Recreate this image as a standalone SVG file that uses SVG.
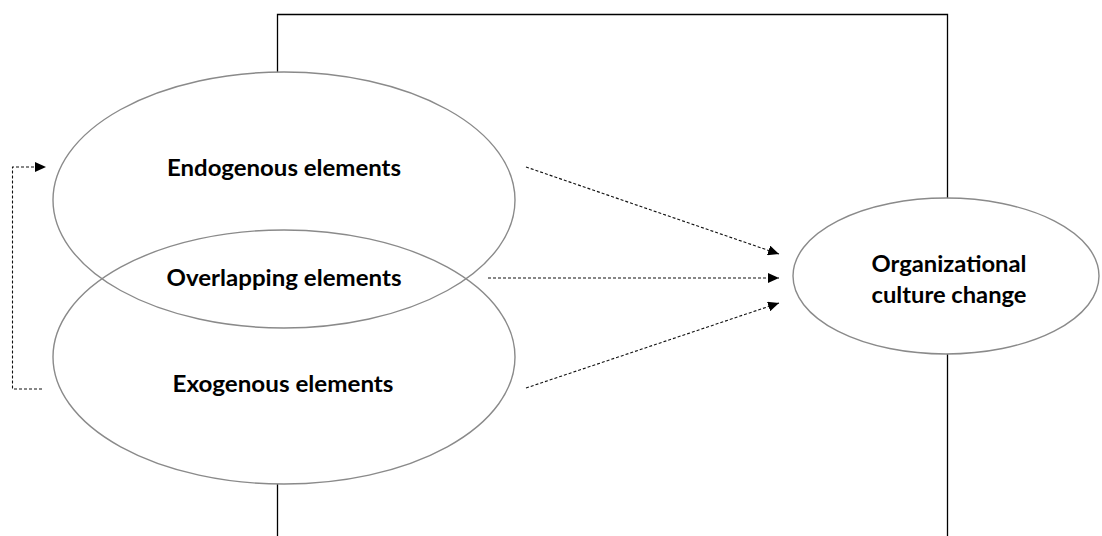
<svg xmlns="http://www.w3.org/2000/svg" width="1102" height="536" viewBox="0 0 1102 536">
  <defs>
    <marker id="arrow" viewBox="0 0 11 10" refX="11" refY="5" markerWidth="11" markerHeight="10" markerUnits="userSpaceOnUse" orient="auto">
      <path d="M0,0 L11,5 L0,10 z" fill="#000"/>
    </marker>
  </defs>
  <style>
    .frame { fill: none; stroke: #000; stroke-width: 1.3; }
    .node { fill: none; stroke: #8a8a8a; stroke-width: 1.4; }
    .label { font-family: "Lato", "Liberation Sans", sans-serif; font-weight: bold; font-size: 22.5px; fill: #000; text-anchor: middle; }
    .link { fill: none; stroke: #111; stroke-width: 1.1; stroke-dasharray: 3 2; }
  </style>

  <rect width="1102" height="536" fill="#fff"/>

  <!-- open frame behind the ellipses -->
  <g id="frame">
    <path class="frame" d="M277.5,536 V14.5 H947.5 V536"/>
  </g>

  <!-- white fills hide the frame where the ellipses cover it -->
  <g id="fills" fill="#fff">
    <ellipse cx="284" cy="200" rx="231" ry="128"/>
    <ellipse cx="284" cy="357" rx="231" ry="127"/>
    <ellipse cx="946" cy="276" rx="153" ry="78"/>
  </g>

  <g id="endogenous">
    <ellipse class="node" cx="284" cy="200" rx="231" ry="128"/>
    <text class="label" x="284" y="176" textLength="234" lengthAdjust="spacingAndGlyphs">Endogenous elements</text>
  </g>

  <g id="exogenous">
    <ellipse class="node" cx="284" cy="357" rx="231" ry="127"/>
    <text class="label" x="283" y="392" textLength="221" lengthAdjust="spacingAndGlyphs">Exogenous elements</text>
  </g>

  <g id="overlapping">
    <text class="label" x="284" y="286" textLength="235" lengthAdjust="spacingAndGlyphs">Overlapping elements</text>
  </g>

  <g id="culture-change">
    <ellipse class="node" cx="946" cy="276" rx="153" ry="78"/>
    <text class="label" x="949" y="272" textLength="155" lengthAdjust="spacingAndGlyphs">Organizational</text>
    <text class="label" x="949" y="303" textLength="155" lengthAdjust="spacingAndGlyphs">culture change</text>
  </g>

  <g id="connectors">
    <line class="link" x1="526" y1="167" x2="779" y2="254" marker-end="url(#arrow)"/>
    <line class="link" x1="488" y1="278" x2="779" y2="278" marker-end="url(#arrow)"/>
    <line class="link" x1="526" y1="388" x2="779" y2="303" marker-end="url(#arrow)"/>
    <path class="link" d="M42,389 H12.5 V167 H46" marker-end="url(#arrow)"/>
  </g>
</svg>
